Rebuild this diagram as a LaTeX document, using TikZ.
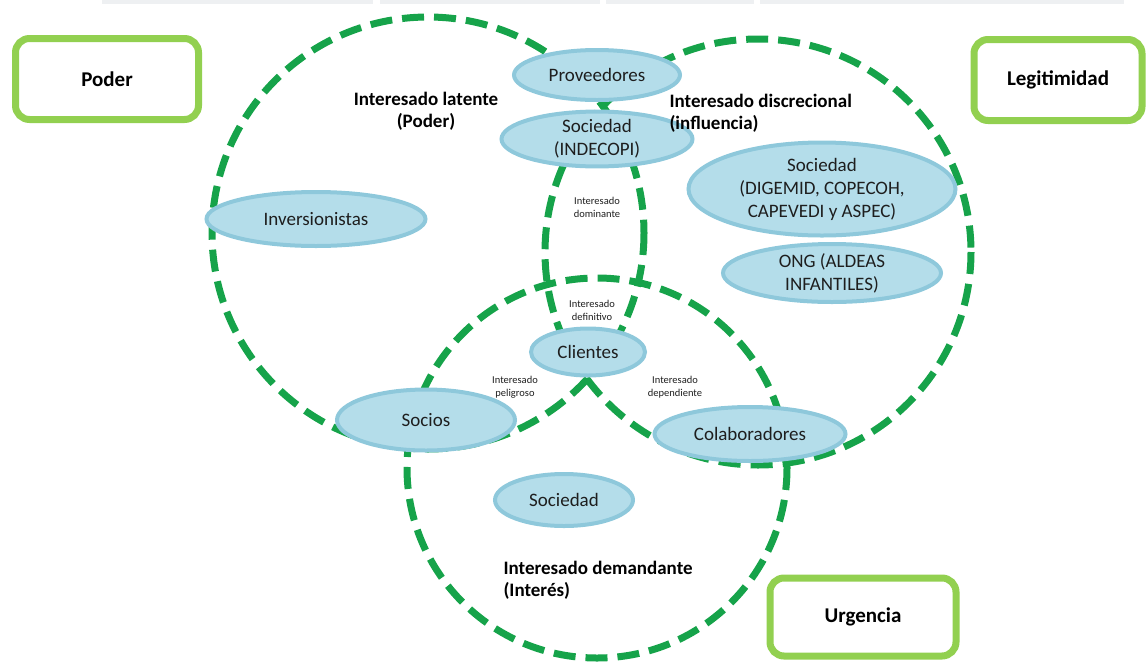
\documentclass[tikz,border=0pt]{standalone}
\usepackage{fontspec}
\setmainfont{Carlito}
\usetikzlibrary{shapes.geometric}
\definecolor{ringgreen}{RGB}{22,163,74}
\definecolor{limegreen}{RGB}{146,208,80}
\definecolor{aquafill}{RGB}{180,221,234}
\definecolor{aquaedge}{RGB}{142,200,219}
\definecolor{ink}{RGB}{30,30,30}
\definecolor{haze}{RGB}{238,240,242}

\begin{document}
\begin{tikzpicture}[x=1pt,y=-1pt,
  ring/.style={draw=ringgreen, line width=7pt, dash pattern=on 22pt off 10pt},
  actor/.style={ellipse, fill=aquafill, draw=aquaedge, line width=4pt,
    inner sep=0pt, align=center, text=ink, font=\fontsize{19}{23}\selectfont},
  attrbox/.style={draw=limegreen, line width=7pt, rounded corners=14pt,
    fill=white, text=black, font=\bfseries\fontsize{21}{25}\selectfont},
  zonelabel/.style={text=black, font=\bfseries\fontsize{19}{22}\selectfont},
  smalllabel/.style={align=center, text=ink, font=\fontsize{10.5}{13}\selectfont}]

\useasboundingbox (0,0) rectangle (1148,665);

% faint strip along the top edge
\fill[haze] (102,0) rectangle (373,4);
\fill[haze] (380,0) rectangle (600,4);
\fill[haze] (606,0) rectangle (754,4);
\fill[haze] (760,0) rectangle (1124,4);

% the three attribute rings
\draw[ring] (428,233) circle [radius=216];
\draw[ring] (758,252) circle [radius=213];
\draw[ring] (597,468) circle [radius=190];

% attribute boxes
\node[attrbox, minimum width=183pt, minimum height=81pt] (poder) at (107,79) {Poder};
\node[attrbox, minimum width=168pt, minimum height=81pt] (legit) at (1058,80) {Legitimidad};
\node[attrbox, minimum width=186pt, minimum height=78pt] (urg) at (863,617) {Urgencia};

% stakeholders
\node[actor, minimum width=166pt, minimum height=50pt] (prov) at (597,75) {Proveedores};
\node[actor, minimum width=191pt, minimum height=54pt] (indecopi) at (597,139) {Sociedad\\(INDECOPI)};
\node[actor, minimum width=219pt, minimum height=54pt] (inv) at (316,219) {Inversionistas};
\node[actor, minimum width=267pt, minimum height=93pt] (digemid) at (822,189) {Sociedad\\(DIGEMID, COPECOH,\\CAPEVEDI y ASPEC)};
\node[actor, minimum width=218pt, minimum height=58pt] (ong) at (832,273) {ONG (ALDEAS\\INFANTILES)};
\node[actor, minimum width=114pt, minimum height=47pt] (clientes) at (588,352) {Clientes};
\node[actor, minimum width=178pt, minimum height=61pt] (socios) at (426,420) {Socios};
\node[actor, minimum width=191pt, minimum height=54pt] (colab) at (750,434) {Colaboradores};
\node[actor, minimum width=138pt, minimum height=52pt] (socbot) at (564,500) {Sociedad};

% zone labels
\node[zonelabel, align=center] (latente) at (426,111) {Interesado latente\\(Poder)};
\node[zonelabel, align=left, anchor=west] (discrec) at (666,113) {Interesado discrecional\\(influencia)};
\node[zonelabel, align=left, anchor=west] (demand) at (500,580) {Interesado demandante\\(Interés)};

\node[smalllabel] (dominante) at (597,207) {Interesado\\dominante};
\node[smalllabel] (definitivo) at (592,310) {Interesado\\definitivo};
\node[smalllabel] (peligroso) at (515,387) {Interesado\\peligroso};
\node[smalllabel] (dependiente) at (675,387) {Interesado\\dependiente};

\end{tikzpicture}
\end{document}
